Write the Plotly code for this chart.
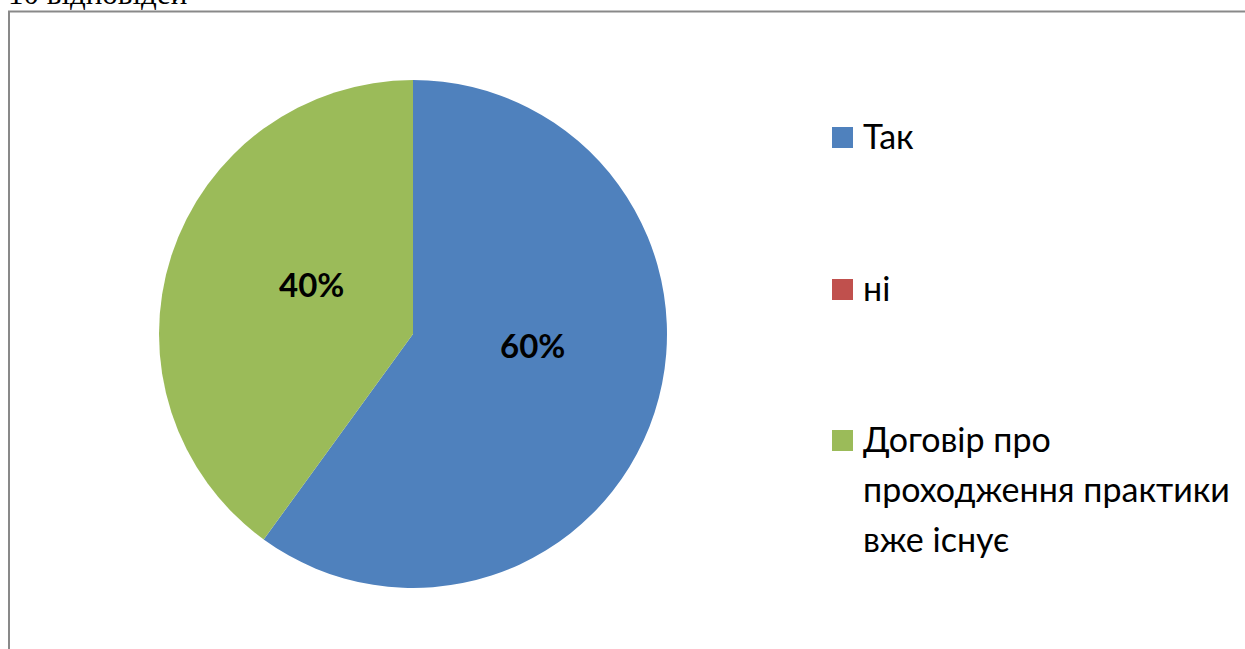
import plotly.graph_objects as go

labels = ["Так", "ні", "Договір про проходження практики вже існує"]
legend_lines = [["Так"], ["ні"], ["Договір про", "проходження практики", "вже існує"]]
values = [6, 0, 4]
colors = ["#4F81BD", "#C0504D", "#9BBB59"]
title_text = "10 відповідей"

W, H = 1245, 649

# layout constants (pixels from top-left of page)
PIE_CX, PIE_CY, PIE_R = 413, 334, 254
pct_label_xy = [(532, 345), None, (311, 284)]
legend_baselines = [148, 300, 451]
legend_line_gap = 50
legend_sq_x0, legend_sq_size = 832, 21
legend_text_x = 861


def px(x):
    return x / W


def py(y):
    return 1 - y / H


fig = go.Figure()
fig.add_trace(go.Pie(
    labels=labels,
    values=values,
    sort=False,
    direction="clockwise",
    rotation=0,
    marker=dict(colors=colors, line=dict(width=0)),
    textinfo="none",
    showlegend=False,
    hoverinfo="label+percent",
    domain=dict(x=[px(PIE_CX - PIE_R), px(PIE_CX + PIE_R)],
                y=[py(PIE_CY + PIE_R), py(PIE_CY - PIE_R)]),
))

annotations = []
shapes = []

total = sum(values)
for v, xy in zip(values, pct_label_xy):
    if v <= 0 or xy is None:
        continue
    annotations.append(dict(
        text=f"{round(v / total * 100)}%", xref="paper", yref="paper",
        x=px(xy[0]), y=py(xy[1]), xanchor="center", yanchor="middle",
        showarrow=False,
        font=dict(family="Lato", size=33, color="black", weight="bold"),
    ))

for lines, c, base in zip(legend_lines, colors, legend_baselines):
    shapes.append(dict(
        type="rect", xref="paper", yref="paper",
        x0=px(legend_sq_x0), x1=px(legend_sq_x0 + legend_sq_size),
        y0=py(base), y1=py(base - legend_sq_size),
        fillcolor=c, line=dict(width=0),
    ))
    for k, ln in enumerate(lines):
        b = base + k * legend_line_gap
        annotations.append(dict(
            text=ln, xref="paper", yref="paper",
            x=px(legend_text_x), y=py(b - 12.5), xanchor="left", yanchor="middle",
            showarrow=False,
            font=dict(family="Lato", size=34, color="black"),
        ))

annotations.append(dict(
    text=title_text, xref="paper", yref="paper", x=px(6), y=py(-6.5),
    xanchor="left", yanchor="middle", showarrow=False,
    font=dict(family="Liberation Serif", size=31, color="black"),
))

shapes.append(dict(
    type="rect", xref="paper", yref="paper",
    x0=px(9), x1=px(W + 10), y0=py(H + 10), y1=py(11.5),
    line=dict(color="#898989", width=2), fillcolor="rgba(0,0,0,0)",
))

fig.update_layout(
    width=W, height=H,
    margin=dict(l=0, r=0, t=0, b=0),
    paper_bgcolor="white", plot_bgcolor="white",
    showlegend=False,
    annotations=annotations,
    shapes=shapes,
)

fig.write_html("out.html", config={"displayModeBar": False},
               post_script="document.body.style.margin='0';")
